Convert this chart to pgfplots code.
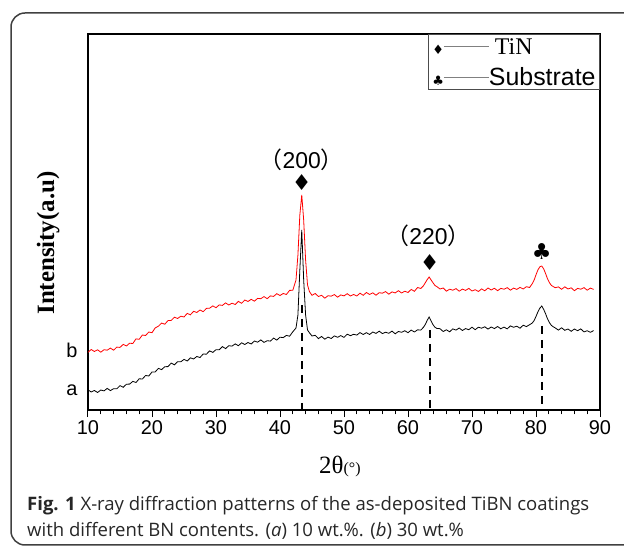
\documentclass[border=0pt]{standalone}
\usepackage{fontspec}
\setmainfont{Liberation Serif}
\setsansfont{Liberation Sans}
\newfontfamily\capfont{Open Sans}
\newfontfamily\cjk{Noto Sans CJK SC}
\newfontfamily\sym{DejaVu Sans}
\usepackage{pgfplots}
\pgfplotsset{compat=1.18}

\begin{document}
\begin{tikzpicture}
\useasboundingbox (0,0) rectangle (624bp,548bp);
% outer frame (cut at the right edge)
\begin{scope}
\clip (0,0) rectangle (624bp,548bp);
\draw[black!75, line width=1.5bp, rounded corners=14bp] (11bp,3bp) rectangle (660bp,535bp);
\end{scope}

\begin{axis}[
    at={(88bp,138bp)}, anchor=south west,
    scale only axis, width=512bp, height=376bp,
    xmin=10, xmax=90, ymin=0, ymax=376,
    xtick={10,20,...,90}, minor xtick={12,14,...,88},
    xtick pos=bottom, tick align=outside,
    major tick length=7bp, minor tick length=4.5bp,
    ytick={19.5,59.8}, yticklabels={a,b},
    ytick style={draw=none},
    every tick/.style={black, line width=1bp},
    axis line style={line width=1.1bp},
    /pgf/number format/assume math mode=true,
    ticklabel style={font=\sffamily\fontsize{20}{24}\selectfont},
    xlabel={2θ{\fontsize{16}{16}\selectfont(°)}},
    xlabel style={font=\rmfamily\fontsize{25}{25}\selectfont,
        at={(axis description cs:0.492,-0.149)}, anchor=center},
    ylabel={Intensity(a.u)},
    ylabel style={font=\rmfamily\bfseries\fontsize{25}{25}\selectfont,
        at={(axis description cs:-0.078,0.444)}, anchor=center},
]

% (a) 10 wt.%
\addplot[black, line width=0.8bp] coordinates {
(10,20.2) (10.5,18.0) (11,19.5) (11.5,17.5) (12,20.0) (12.5,19.1) (13,21.6) (13.5,19.4)
(14,21.3) (14.5,21.2) (15,24.4) (15.5,22.7) (16,25.8) (16.5,25.9) (17,28.6) (17.5,27.5)
(18,31.2) (18.5,31.0) (19,34.5) (19.5,34.0) (20,38.0) (20.5,38.1) (21,41.6) (21.5,40.4)
(22,43.3) (22.5,43.4) (23,46.9) (23.5,45.2) (24,48.3) (24.5,48.2) (25,50.6) (25.5,49.0)
(26,52.2) (26.5,51.0) (27,53.5) (27.5,52.5) (28,56.0) (28.5,55.8) (29,59.1) (29.5,57.6)
(30,60.3) (30.5,60.2) (31,63.4) (31.5,61.4) (32,64.3) (32.5,63.9) (33,66.1) (33.5,64.3)
(34,67.2) (34.5,65.5) (35,67.5) (35.5,66.0) (36,69.0) (36.5,67.8) (37,70.1) (37.5,67.6)
(38,69.3) (38.5,68.9) (39,71.9) (39.5,69.9) (40,72.8) (40.5,72.4) (41,74.6) (41.5,73.8)
(42,78.2) (42.5,82) (42.8,95) (43.1,140) (43.4,180) (43.7,130) (44.0,95) (44.3,80)
(44.6,77.2) (45,74.0) (45.5,74.7) (46,71.4) (46.5,73.5) (47,70.8) (47.5,72.9) (48,71.5)
(48.5,74.1) (49,72.7) (49.5,74.4) (50,72.6) (50.5,75.8) (51,74.3) (51.5,75.7) (52,74.9)
(52.5,77.4) (53,75.5) (53.5,77.3) (54,75.5) (54.5,78.0) (55,76.6) (55.5,78.8) (56,76.4)
(56.5,77.8) (57,76.7) (57.5,78.9) (58,76.2) (58.5,78.5) (59,77.7) (59.5,79.3) (60,77.3)
(60.5,79.9) (61,78.0) (61.5,80.2) (62,79.9) (62.4,82.6) (62.7,85.5) (63,89.6) (63.3,93)
(63.6,89.2) (63.9,85.4) (64.2,82.8) (64.5,81.6) (65,81.3) (65.5,78.5) (66,80.2) (66.5,78.2)
(67,81.1) (67.5,79.9) (68,82.0) (68.5,79.5) (69,81.4) (69.5,80.3) (70,82.8) (70.5,80.3)
(71,82.8) (71.5,81.8) (72,83.2) (72.5,80.9) (73,83.0) (73.5,81.4) (74,83.5) (74.5,81.2)
(75,82.9) (75.5,81.1) (76,84.1) (76.5,82.7) (77,83.8) (77.5,81.8) (78,84.8) (78.5,83.4)
(79,85.3) (79.4,86.9) (79.7,89.4) (80,93.5) (80.3,98.2) (80.6,101.8) (80.9,104) (81.2,100.6)
(81.5,96.2) (81.8,91.1) (82.1,87.4) (82.4,84.6) (82.7,83.2) (83,82.1) (83.5,79.9) (84,82.2)
(84.5,79.7) (85,81.0) (85.5,78.7) (86,81.0) (86.5,79.3) (87,81.1) (87.5,78.1) (88,79.3)
(88.5,77.7) (89,79.4)
};

% (b) 30 wt.%
\addplot[red, line width=0.8bp] coordinates {
(10,57.7) (10.5,60.5) (11,58.5) (11.5,60.2) (12,57.8) (12.5,60.3) (13,59.8) (13.5,61.9)
(14,59.8) (14.5,62.9) (15,62.6) (15.5,65.6) (16,64.0) (16.5,66.8) (17,66.5) (17.5,71.1)
(18,70.7) (18.5,75.0) (19,74.5) (19.5,78.0) (20,77.3) (20.5,82.1) (21,83.8) (21.5,86.9)
(22,85.8) (22.5,89.4) (23,89.6) (23.5,92.8) (24,91.5) (24.5,93.8) (25,93.0) (25.5,96.6)
(26,95.2) (26.5,98.7) (27,97.5) (27.5,100.0) (28,98.3) (28.5,101.6) (29,101.8) (29.5,104.1)
(30,102.3) (30.5,105.1) (31,104.6) (31.5,107.1) (32,105.0) (32.5,106.8) (33,105.5) (33.5,108.6)
(34,106.7) (34.5,110.0) (35,108.5) (35.5,110.7) (36,108.8) (36.5,111.6) (37,111.3) (37.5,113.4)
(38,111.3) (38.5,114.1) (39,113.6) (39.5,116.3) (40,114.5) (40.5,116.5) (41,115.5) (41.5,119.6)
(42,119.7) (42.5,130) (42.8,155) (43.1,195) (43.4,215) (43.7,190) (44.0,150) (44.3,125)
(44.6,118.4) (45,114.7) (45.5,116.5) (46,113.5) (46.5,114.7) (47,111.8) (47.5,114.3) (48,113.8)
(48.5,115.4) (49,112.8) (49.5,115.1) (50,114.1) (50.5,116.3) (51,114.0) (51.5,115.5) (52,114.0)
(52.5,116.8) (53,114.7) (53.5,117.5) (54,115.5) (54.5,117.2) (55,114.8) (55.5,117.3) (56,116.8)
(56.5,118.4) (57,115.8) (57.5,118.1) (58,117.1) (58.5,119.3) (59,117.0) (59.5,118.8) (60,117.5)
(60.5,120.6) (61,118.7) (61.5,122.5) (62,121.5) (62.4,124.1) (62.7,127.2) (63,130.4) (63.3,133)
(63.6,130.1) (63.9,127.3) (64.2,124.6) (64.5,123.4) (65,121.0) (65.5,122.0) (66,118.8) (66.5,120.8)
(67,119.8) (67.5,121.4) (68,118.8) (68.5,120.9) (69,119.6) (69.5,121.6) (70,119.0) (70.5,120.3)
(71,118.5) (71.5,121.1) (72,119.2) (72.5,122.0) (73,120.0) (73.5,121.7) (74,119.3) (74.5,121.6)
(75,120.8) (75.5,122.4) (76,119.8) (76.5,121.9) (77,120.6) (77.5,122.6) (78,121.0) (78.5,123.3)
(79,122.5) (79.4,126.2) (79.7,129.8) (80,135.2) (80.3,140.1) (80.6,143.2) (80.9,144) (81.2,141.1)
(81.5,136.4) (81.8,131.2) (82.1,127.3) (82.4,124.6) (82.7,123.4) (83,122.3) (83.5,123.1) (84,120.7)
(84.5,123.2) (85,121.0) (85.5,122.2) (86,119.3) (86.5,121.6) (87,120.8) (87.5,122.4) (88,119.8)
(88.5,121.9) (89,120.6)
};

% peak position guides
\addplot[black, line width=1.8bp, dash pattern=on 8bp off 6bp] coordinates {(43.4,105) (43.4,0)};
\addplot[black, line width=1.8bp, dash pattern=on 8bp off 6bp] coordinates {(63.4,80) (63.4,0)};
\addplot[black, line width=1.8bp, dash pattern=on 8bp off 6bp] coordinates {(80.9,84) (80.9,0)};

% peak labels
\node[font=\sym\fontsize{22}{22}\selectfont] at (axis cs:43.4,227) {♦};
\node[font=\sym\fontsize{22}{22}\selectfont] at (axis cs:63.4,147) {♦};
\node[font=\sym\fontsize{22}{22}\selectfont] at (axis cs:80.9,158) {♣};
\node[font=\sffamily\fontsize{23}{23}\selectfont] at (axis cs:43.4,250) {{\cjk （}200{\cjk ）}};
\node[font=\sffamily\fontsize{23}{23}\selectfont] at (axis cs:63.2,174) {{\cjk （}220{\cjk ）}};

% legend box
\node[draw=black!70, line width=0.9bp, anchor=north east, inner xsep=4bp, inner ysep=4bp,
      align=left, font=\fontsize{24}{31}\selectfont] at (rel axis cs:1,1)
  {{\sym\fontsize{13}{13}\selectfont ♦}\textcolor{gray}{\rule[7bp]{45bp}{0.9bp}}\hspace{6bp}{\rmfamily TiN}\\
   {\sym\fontsize{13}{13}\selectfont ♣}\textcolor{gray}{\rule[7bp]{45bp}{0.9bp}}{\sffamily\fontsize{25}{31}\selectfont Substrate}};
\end{axis}

% caption
\node[anchor=base west, inner sep=0, text=black!85, font=\capfont\fontsize{18.6}{22}\selectfont]
  at (27bp,38bp) {\textbf{Fig. 1} X-ray diffraction patterns of the as-deposited TiBN coatings};
\node[anchor=base west, inner sep=0, text=black!85, font=\capfont\fontsize{18.6}{22}\selectfont]
  at (27bp,12bp) {with different BN contents. (\textit{a}) 10 wt.\%. (\textit{b}) 30 wt.\%};
\end{tikzpicture}
\end{document}
